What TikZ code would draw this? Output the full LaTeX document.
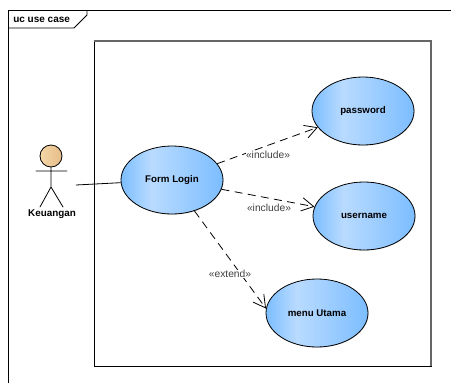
\documentclass[tikz,border=0pt]{standalone}
\usepackage{fontspec}
\setmainfont{Liberation Sans}
\usetikzlibrary{positioning, arrows.meta, shapes.geometric, shadows}
\definecolor{ucside}{HTML}{7CBDFF}
\definecolor{uclight}{HTML}{B9DBFF}
\definecolor{skin}{HTML}{F5D7A8}
\pgfdeclarehorizontalshading{usecase}{100bp}{color(0bp)=(ucside); color(25bp)=(ucside); color(40bp)=(uclight); color(75bp)=(ucside); color(100bp)=(ucside)}

\begin{document}
\begin{tikzpicture}[x=0.75pt, y=-0.75pt]
\tikzstyle{usecase}=[ellipse, draw=black, semithick, shading=usecase, minimum width=76.5pt, minimum height=51pt, inner sep=0pt, font=\fontsize{7.3}{8}\selectfont\bfseries, drop shadow={shadow xshift=0.5pt, shadow yshift=-0.5pt, opacity=0.25}]
\tikzstyle{connect}=[-{Straight Barb[length=9pt, width=10pt]}, semithick, dash pattern=on 6pt off 4pt]
\tikzstyle{stereo}=[font=\fontsize{7.7}{8}\selectfont, text=black!75, inner sep=0pt]
\tikzstyle{limb}=[semithick, line cap=round]
\useasboundingbox (0,0) rectangle (451,383);
% 1. Frames
%%%%%%%%%%
\draw[semithick] (8,383) -- (8,10) -- (451,10);
\draw[semithick] (8,28) -- (74,28) -- (87,15) -- (87,10);
\node[font=\fontsize{7.5}{8}\selectfont\bfseries, anchor=west, inner sep=0pt] (frametitle) at (13,20) {uc use case};
\draw[semithick] (432,366) -- (94,366) -- (94,41);
\draw[black!60, thick] (94,41) -- (431,41) -- (431,366);
% 2. Nodes
%%%%%%%%%%
\node[usecase] (login) at (172,180) {Form Login};
\node[usecase] (password) at (363,111) {password};
\node[usecase] (username) at (364,216) {username};
\node[usecase] (menu) at (317,313) {menu Utama};
\node[circle, draw=black, semithick, left color=skin, right color=skin!70!brown, minimum size=16.5pt, inner sep=0pt] (head) at (51,156) {};
\node[font=\fontsize{7.4}{8}\selectfont\bfseries, inner sep=0pt] (keuangan) at (52,214) {Keuangan};
\coordinate (hip) at (51,187);
\coordinate (armleft) at (36,171);
\coordinate (armright) at (67,171);
\coordinate (footleft) at (40,207);
\coordinate (footright) at (63,207);
\coordinate (actorside) at (76,185);
% 3. Arrows
%%%%%%%%%%%
\draw[limb] (head) -- (hip) -- (footleft)
            (hip) -- (footright)
            (armleft) -- (armright);
\draw[semithick] (actorside) -- (login);
\draw[connect] (login) -- (password);
\draw[connect] (login) -- (username);
\draw[connect] (login.-54) -- (menu.175);
% 4. Labels
%%%%%%%%%%%
\node[stereo, fill=white] (inclpass) at (268,155) {«include»};
\node[stereo, fill=white] (incluser) at (269,208) {«include»};
\node[stereo, fill=white] (extmenu) at (230,274) {«extend»};
\end{tikzpicture}
\end{document}
